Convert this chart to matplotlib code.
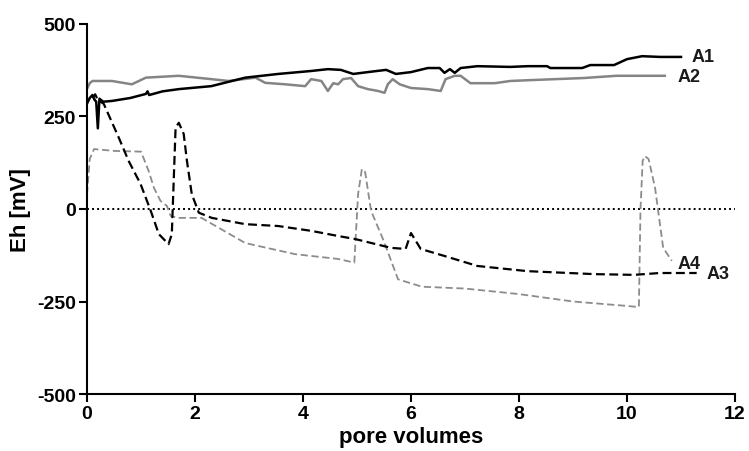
import matplotlib
matplotlib.use("Agg")
import matplotlib.pyplot as plt

# ---- data ----
a1_x = [0, 0.05, 0.1, 0.14, 0.17, 0.2, 0.23, 0.3, 0.46, 0.8, 1.09, 1.12, 1.15, 1.4, 1.7, 2.3,
        2.93, 3.54, 4.15, 4.46, 4.7, 4.93, 5.2, 5.54, 5.72, 6.0, 6.31, 6.53, 6.62, 6.72, 6.81,
        6.92, 7.23, 7.84, 8.16, 8.52, 8.58, 9.17, 9.32, 9.76, 10.0, 10.28, 10.61, 11.0]
a1_y = [285, 300, 308, 295, 290, 218, 298, 290, 292, 300, 311, 318, 308, 318, 324, 332,
        355, 365, 373, 378, 376, 365, 370, 376, 365, 370, 381, 381, 368, 378, 368,
        381, 386, 384, 386, 386, 381, 381, 389, 389, 405, 413, 411, 411]

a2_x = [0, 0.05, 0.1, 0.46, 0.83, 1.09, 1.7, 2.3, 2.62, 3.12, 3.3, 3.67, 4.04, 4.15, 4.34,
        4.46, 4.56, 4.65, 4.74, 4.89, 5.02, 5.2, 5.39, 5.51, 5.57, 5.66, 5.79, 6.0, 6.31,
        6.55, 6.64, 6.81, 6.92, 7.1, 7.55, 7.84, 8.16, 9.2, 9.8, 10.7]
a2_y = [325, 340, 346, 346, 337, 355, 360, 351, 346, 355, 341, 337, 332, 351, 346,
        319, 340, 337, 351, 354, 332, 324, 319, 314, 337, 351, 337, 327, 324,
        319, 351, 360, 360, 340, 340, 346, 348, 354, 360, 360]

a3_x = [0.1, 0.15, 0.2, 0.31, 0.59, 0.77, 0.99, 1.18, 1.33, 1.51, 1.57, 1.64, 1.70, 1.79,
        1.85, 1.94, 2.07, 2.31, 2.93, 3.54, 4.15, 4.65, 4.96, 5.63, 5.9, 6.0, 6.18, 6.62,
        7.23, 8.16, 9.39, 10.13, 10.61, 11.29]
a3_y = [300, 310, 295, 284, 192, 130, 68, -5, -68, -95, -68, 220, 233, 203,
        130, 40, -10, -24, -41, -46, -59, -73, -81, -105, -108, -65, -108, -127,
        -154, -168, -176, -178, -173, -173]

a4_x = [0, 0.05, 0.13, 0.5, 1.0, 1.14, 1.24, 1.36, 1.48, 1.55, 1.7, 2.12, 2.43, 2.93, 3.85,
        4.65, 4.95, 5.02, 5.09, 5.15, 5.26, 5.48, 5.76, 6.2, 7.0, 8.0, 9.0, 10.0, 10.22,
        10.25, 10.29, 10.33, 10.4, 10.52, 10.67, 10.83]
a4_y = [40, 135, 162, 157, 155, 103, 57, 22, 8, -19, -24, -24, -50, -92, -122,
        -135, -145, 40, 108, 100, -5, -81, -190, -210, -215, -230, -250, -262, -265,
        0, 130, 143, 135, 57, -105, -140]

series_labels = ["A1", "A2", "A3", "A4"]
x_ticks = [0, 2, 4, 6, 8, 10, 12]
y_ticks = [-500, -250, 0, 250, 500]

plt.rcParams['font.family'] = ['Liberation Sans', 'DejaVu Sans']
plt.rcParams['font.weight'] = 'bold'

fig = plt.figure(figsize=(7.49, 4.52), dpi=100)
ax = fig.add_axes([0.1162, 0.1261, 0.9813 - 0.1162, 0.9447 - 0.1261])

ax.axhline(0, color='black', lw=1.4, linestyle=(0, (1, 1.6)), zorder=1)
ax.plot(a2_x, a2_y, color='#858585', lw=1.8, zorder=2)
ax.plot(a1_x, a1_y, color='black', lw=1.8, zorder=3)
ax.plot(a4_x, a4_y, color='#8c8c8c', lw=1.3, dashes=(4, 2), zorder=2)
ax.plot(a3_x, a3_y, color='black', lw=1.6, dashes=(4, 2), zorder=3)

lab_pos = {"A1": (11.2, 411), "A2": (10.93, 357), "A3": (11.48, -173), "A4": (10.94, -146)}
for s in series_labels:
    ax.text(lab_pos[s][0], lab_pos[s][1], s, ha='left', va='center',
            fontsize=13, fontweight='bold', color='#1a1a1a')

ax.set_xlim(0, 12)
ax.set_ylim(-500, 500)
ax.set_xticks(x_ticks)
ax.set_yticks(y_ticks)
ax.set_xticklabels([str(t) for t in x_ticks])
ax.set_yticklabels([str(t) for t in y_ticks])
for sp in ['top', 'right']:
    ax.spines[sp].set_visible(False)
for sp in ['left', 'bottom']:
    ax.spines[sp].set_linewidth(1.5)
ax.tick_params(axis='both', direction='out', length=5.5, width=1.5, labelsize=14, pad=2.5)
for lbl in ax.get_xticklabels() + ax.get_yticklabels():
    lbl.set_fontweight('bold')

ax.set_xlabel('pore volumes', fontsize=16, fontweight='bold', labelpad=3)
ax.set_ylabel('Eh [mV]', fontsize=16, fontweight='bold', labelpad=4)

fig.savefig('out.png', dpi=100)
